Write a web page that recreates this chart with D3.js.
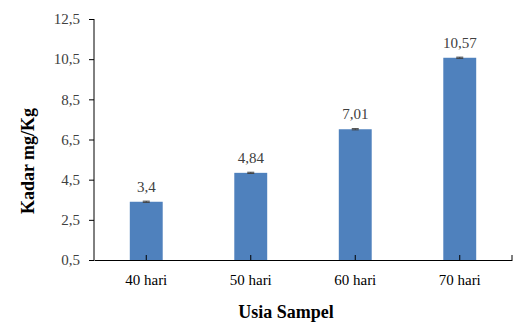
<!DOCTYPE html>
<html lang="id">
  <head>
    <meta charset="UTF-8">
    <title>Kadar mg/Kg per Usia Sampel</title>
    <script src="https://d3js.org/d3.v7.min.js"></script>
    <style>
      body { margin: 0; background: #fff; }
    </style>
  </head>
  <body>
    <script>
      const categories = ["40 hari", "50 hari", "60 hari", "70 hari"];
      const values = [3.4, 4.84, 7.01, 10.57];
      const errors = [0.03, 0.03, 0.03, 0.03];
      const yTicks = [0.5, 2.5, 4.5, 6.5, 8.5, 10.5, 12.5];

      const w = 524, h = 327;
      const padL = 94, padR = 512, padT = 19, padB = 260;
      const serif = "Liberation Serif";

      const svg = d3.select("body").append("svg")
        .attr("width", w)
        .attr("height", h)
        .style("font-family", serif);

      const x = d3.scaleBand()
        .domain(categories)
        .range([padL, padR])
        .paddingInner(0.685)
        .paddingOuter(0.3425);

      const y = d3.scaleLinear()
        .domain([0.5, 12.5])
        .range([padB, padT]);

      const fmt = d => String(d).replace(".", ",");
      const fmtTick = d => d3.format(".1f")(d).replace(".", ",");

      // bars
      svg.selectAll("rect.bar")
        .data(values)
        .enter()
        .append("rect")
        .attr("class", "bar")
        .attr("x", (d, i) => x(categories[i]))
        .attr("width", x.bandwidth())
        .attr("y", d => y(d))
        .attr("height", d => y(0.5) - y(d))
        .attr("fill", "#4f81bd");

      // error caps
      svg.selectAll("g.err")
        .data(values)
        .enter()
        .append("g")
        .attr("class", "err")
        .each(function (d, i) {
          const cx = x(categories[i]) + x.bandwidth() / 2;
          const g = d3.select(this);
          g.append("line")
            .attr("x1", cx).attr("x2", cx)
            .attr("y1", y(d + errors[i])).attr("y2", y(d - errors[i]))
            .attr("stroke", "#404040").attr("stroke-width", 1);
          [d + errors[i], d - errors[i]].forEach(v => {
            g.append("line")
              .attr("x1", cx - 3.5).attr("x2", cx + 3.5)
              .attr("y1", y(v)).attr("y2", y(v))
              .attr("stroke", "#404040").attr("stroke-width", 1);
          });
        });

      // data labels
      svg.selectAll("text.lbl")
        .data(values)
        .enter()
        .append("text")
        .attr("class", "lbl")
        .attr("x", (d, i) => x(categories[i]) + x.bandwidth() / 2)
        .attr("y", d => y(d) - 10)
        .attr("text-anchor", "middle")
        .style("font-family", serif)
        .style("font-size", "15px")
        .style("fill", "#404040")
        .text(d => fmt(d));

      // y axis
      const yAxis = d3.axisLeft(y)
        .tickValues(yTicks)
        .tickFormat(fmtTick)
        .tickSize(5)
        .tickPadding(9);
      const gy = svg.append("g")
        .attr("transform", `translate(${padL},0)`)
        .call(yAxis)
        .attr("font-family", serif);
      gy.select(".domain").attr("d", `M0,${padT}V${padB}`);
      gy.selectAll("text").style("font-size", "15px").style("fill", "#404040")
        .style("font-family", serif);

      // x axis
      const xAxis = d3.axisBottom(x).tickSizeInner(-5).tickSizeOuter(0).tickPadding(14);
      const gx = svg.append("g")
        .attr("transform", `translate(0,${padB})`)
        .call(xAxis)
        .attr("font-family", serif);
      gx.select(".domain").attr("stroke", "#000");
      gx.selectAll("text").style("font-size", "15px").style("fill", "#000")
        .style("font-family", serif);
      gx.append("line")
        .attr("x1", padR).attr("x2", padR)
        .attr("y1", 0).attr("y2", -5)
        .attr("stroke", "#000");

      // axis titles
      svg.append("text")
        .attr("x", 286)
        .attr("y", 318)
        .attr("text-anchor", "middle")
        .style("font-family", serif)
        .style("font-size", "18px")
        .style("font-weight", "bold")
        .text("Usia Sampel");

      svg.append("text")
        .attr("transform", `translate(34,161) rotate(-90)`)
        .attr("text-anchor", "middle")
        .style("font-family", serif)
        .style("font-size", "18px")
        .style("font-weight", "bold")
        .text("Kadar mg/Kg");
    </script>
  </body>
</html>
